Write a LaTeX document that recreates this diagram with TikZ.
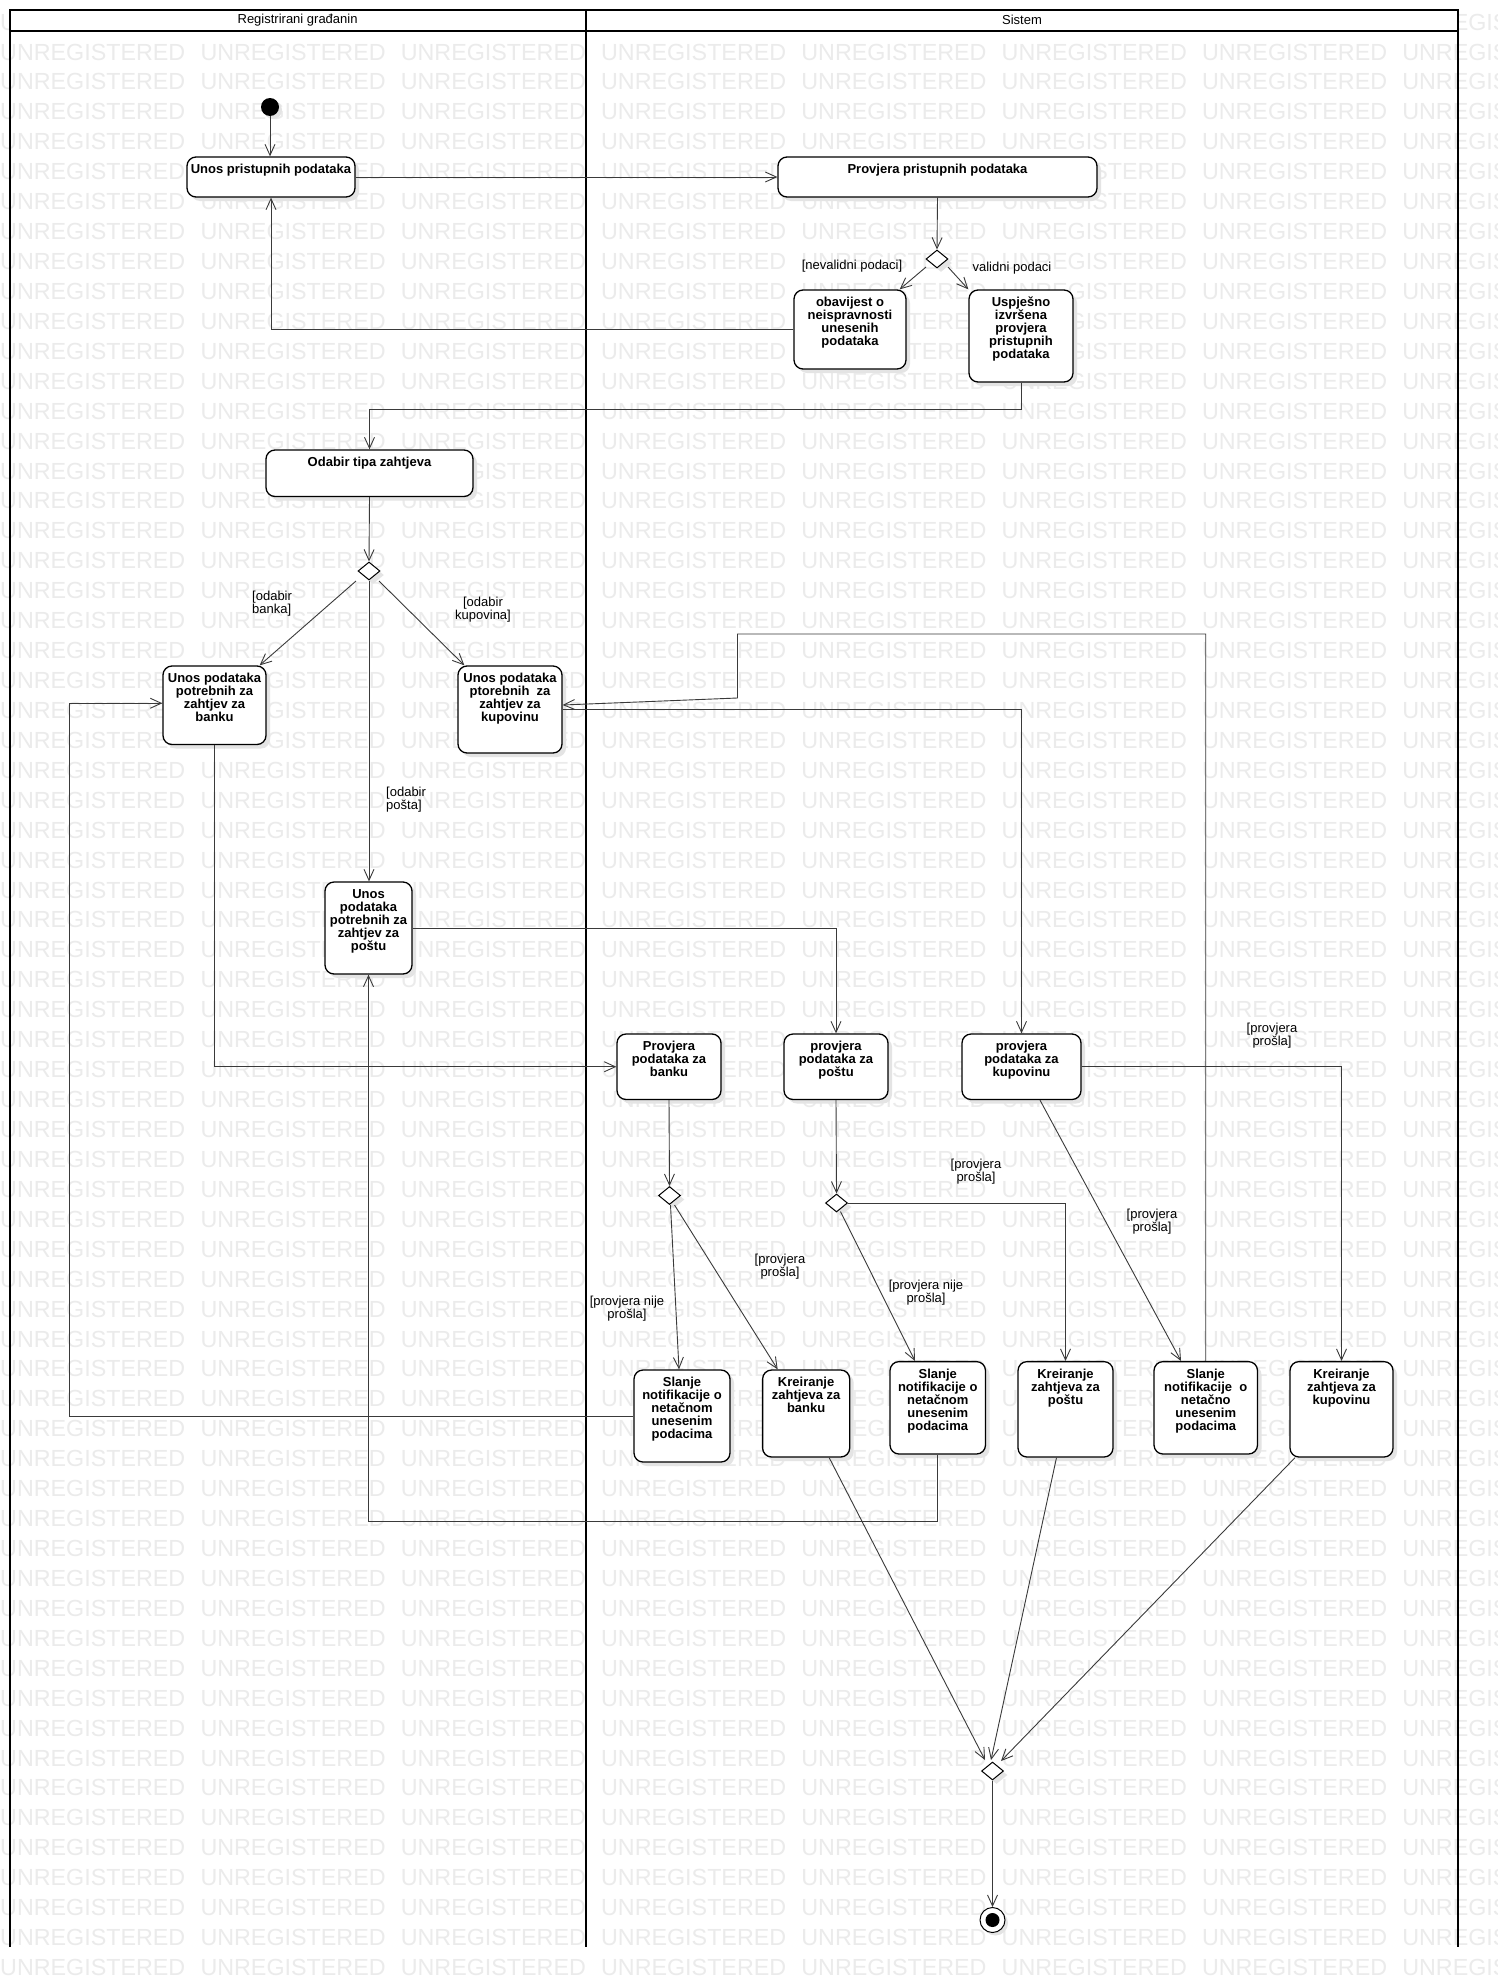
\documentclass[tikz,border=0pt]{standalone}
\usepackage{fontspec}
\setmainfont{Liberation Sans}
\usetikzlibrary{arrows.meta,shapes.geometric,shadows,calc}
\definecolor{wmcol}{HTML}{EBEBEB}
\definecolor{lncol}{HTML}{3A3A3A}
\definecolor{shdcol}{HTML}{E4E4E4}
\newcommand{\boxfnt}{\fontsize{13}{13}\selectfont\bfseries}
\newcommand{\lblfnt}{\fontsize{13}{13}\selectfont}
\tikzset{
  actbox/.style={draw=black, line width=1.3pt, rounded corners=9pt, fill=white, inner sep=0pt,
     drop shadow={shadow xshift=4pt, shadow yshift=-4pt, fill=shdcol, opacity=1}},
  dia/.style={diamond, draw=black, line width=1pt, fill=white, inner sep=0pt,
     minimum width=22pt, minimum height=18pt, aspect=1.22,
     drop shadow={shadow xshift=4pt, shadow yshift=-4pt, fill=shdcol, opacity=1}},
  flow/.style={draw=lncol, line width=0.9pt, -{Straight Barb[length=11pt,width=10pt]}},
  plain/.style={draw=lncol, line width=0.9pt},
  guard/.style={font=\lblfnt, inner sep=0pt, align=center},
  lane/.style={draw=black, line width=2pt},
  wmark/.style={anchor=base west, inner sep=0pt, text=wmcol, font=\fontsize{23.3}{24}\selectfont},
}
\newcommand{\uboxnode}[6]{%
  \node[actbox] (#1) at ({(#2+#4)/2},{(#3+#5)/2})
   {\parbox[c][\dimexpr #5pt-#3pt\relax][t]{\dimexpr #4pt-#2pt\relax}{\centering\boxfnt\rule{0pt}{16.5pt}#6}};}
\begin{document}
\begin{tikzpicture}[x=1pt,y=-1pt]
\useasboundingbox (0,0) rectangle (1498,1986);
\clip (0,0) rectangle (1498,1986);
\fill[white] (0,0) rectangle (1498,1986);
% watermark
\foreach \k in {-1,...,64}{
  \foreach \i in {0,...,7}{
    \node[wmark] (wm-\k-\i) at ({200.3*\i},{60+29.93*\k}) {UNREGISTERED};
  }
}
% swimlanes
\fill[white] (9.6,10) rectangle (1458,31);
\draw[lane] (9.6,1947) -- (9.6,10) -- (1458,10) -- (1458,1947);
\draw[lane] (9.6,31) -- (1458,31);
\draw[lane] (586,10) -- (586,1947);
\node[font=\lblfnt, inner sep=0pt] (hdrL) at (297.6,20) {Registrirani građanin};
\node[font=\lblfnt, inner sep=0pt] (hdrR) at (1022,20) {Sistem};

% initial / final
\node[circle, fill=black, minimum size=18pt, inner sep=0pt,
  drop shadow={shadow xshift=3pt, shadow yshift=-3pt, fill=shdcol, opacity=1}] (init) at (270,107) {};
\node[circle, draw=black, line width=1pt, fill=white, minimum size=25pt, inner sep=0pt,
  drop shadow={shadow xshift=3pt, shadow yshift=-3pt, fill=shdcol, opacity=1}] (fin) at (992.5,1920) {};
\node[circle, fill=black, minimum size=14pt, inner sep=0pt] (finin) at (fin) {};

% activities
\uboxnode{unos}{187}{157}{355}{197}{Unos pristupnih podataka}
\uboxnode{provPrist}{778}{157}{1097}{197}{Provjera pristupnih podataka}
\uboxnode{obav}{794}{290}{906}{369}{obavijest o\\neispravnosti\\unesenih\\podataka}
\uboxnode{uspj}{969}{290}{1073}{382}{Uspješno\\izvršena\\provjera\\pristupnih\\podataka}
\uboxnode{odabir}{266}{450}{473}{496.5}{Odabir tipa zahtjeva}
\uboxnode{banka}{163}{666}{266}{744.5}{Unos podataka\\potrebnih za\\zahtjev za\\banku}
\uboxnode{kupov}{458}{666}{562}{753}{Unos podataka\\ptorebnih\ \ za\\zahtjev za\\kupovinu}
\uboxnode{posta}{325}{882}{412}{974}{Unos\\podataka\\potrebnih za\\zahtjev za\\poštu}
\uboxnode{provB}{617}{1034}{721}{1099.5}{Provjera\\podataka za\\banku}
\uboxnode{provP}{784}{1034}{888}{1099.5}{provjera\\podataka za\\poštu}
\uboxnode{provK}{962}{1034}{1081}{1099.5}{provjera\\podataka za\\kupovinu}
\uboxnode{sl1}{634}{1370}{730}{1462}{Slanje\\notifikacije o\\netačnom\\unesenim\\podacima}
\uboxnode{krB}{762.6}{1370}{849.7}{1457}{Kreiranje\\zahtjeva za\\banku}
\uboxnode{sl2}{890}{1361.6}{985.5}{1454}{Slanje\\notifikacije o\\netačnom\\unesenim\\podacima}
\uboxnode{krP}{1018}{1361.6}{1113}{1457}{Kreiranje\\zahtjeva za\\poštu}
\uboxnode{sl3}{1154}{1361.6}{1257.5}{1454}{Slanje\\notifikacije\ \ o\\netačno\\unesenim\\podacima}
\uboxnode{krK}{1290}{1361.6}{1393}{1457}{Kreiranje\\zahtjeva za\\kupovinu}

% decisions
\node[dia] (d1) at (937,259) {};
\node[dia] (d2) at (369,571) {};
\node[dia] (d3) at (669.5,1195.5) {};
\node[dia] (d4) at (836.5,1203) {};
\node[dia] (dm) at (992.5,1771) {};

% connectors
\draw[flow] (init.south) -- (init.south |- unos.north);
\draw[flow] (unos.east) -- (provPrist.west);
\draw[flow] (provPrist.south) -- (d1.north);
\draw[flow] ($(d1)+(-11,8)$) -- ($(obav.north east)+(-7,0)$);
\draw[flow] ($(d1)+(11,8)$) -- (uspj.north west);
\draw[flow] (obav.west) -| (unos.south);
\draw[flow] (uspj.south) -- ++(0,27) -| (odabir.north);
\draw[flow] (odabir.south) -- (d2.north);
\draw[flow] ($(d2)+(-13,10)$) -- ($(banka.north east)+(-7,0)$);
\draw[flow] ($(d2)+(10,10)$) -- ($(kupov.north west)+(7,0)$);
\draw[flow] (d2.south) -- (d2.south |- posta.north);
\draw[flow] (banka.south) |- (provB.west);
\draw[flow] (posta.east) -| (provP.north);
\draw[flow] (kupov.east) -| (provK.north);
\draw[flow] (provB.south) -- (d3.north);
\draw[flow] ($(d3)+(1,9.5)$) -- ($(sl1.north)+(-3,0)$);
\draw[flow] ($(d3)+(5,9.5)$) -- ($(krB.north)+(-28.5,0)$);
\coordinate (lft) at (69,0);
\draw[flow] (sl1.west) -- (sl1.west -| lft) -- ($(banka.west -| lft)+(0,-2)$) -- ($(banka.west)+(0,-2)$);
\draw[flow] (provP.south) -- (d4.north);
\draw[flow] (d4.east) -| (krP.north);
\draw[flow] ($(d4)+(4,8.6)$) -- ($(sl2.north)+(-22.75,0)$);
\draw[flow] (sl2.south) -- ++(0,67) -| (posta.south);
\draw[flow] ($(provK.south)+(18.5,0)$) -- ($(sl3.north)+(-24.75,0)$);
\draw[flow] (provK.east) -| (krK.north);
\coordinate (c25) at (737.5,634);
\draw[flow] (sl3.north) |- (c25) -- ++(0,64) -- ($(kupov.east)+(0,-4.5)$);
\draw[flow] ($(krB.south)+(23,0)$) -- ($(dm)+(-7.5,-11)$);
\draw[flow] ($(krP.south)+(-9,0)$) -- ($(dm)+(-1.5,-11)$);
\draw[flow] ($(krK.south)+(-46.5,0)$) -- ($(dm)+(8.5,-10)$);
\draw[flow] (dm.south) -- (fin.north);

% guards
\node[guard] (g1) at (852,266) {[nevalidni podaci]};
\node[guard] (g2) at (1012,268) {validni podaci};
\node[guard, align=left, anchor=west] (g3) at (252,604) {[odabir\\banka]};
\node[guard] (g4) at (483,610) {[odabir\\kupovina]};
\node[guard, align=left, anchor=west] (g5) at (386,800) {[odabir\\pošta]};
\node[guard] (g6) at (627,1309) {[provjera nije\\prošla]};
\node[guard] (g7) at (780,1267) {[provjera\\prošla]};
\node[guard] (g8) at (976,1172) {[provjera\\prošla]};
\node[guard] (g9) at (926,1293) {[provjera nije\\prošla]};
\node[guard] (g10) at (1152,1222) {[provjera\\prošla]};
\node[guard] (g11) at (1272,1036) {[provjera\\prošla]};
\end{tikzpicture}
\end{document}
